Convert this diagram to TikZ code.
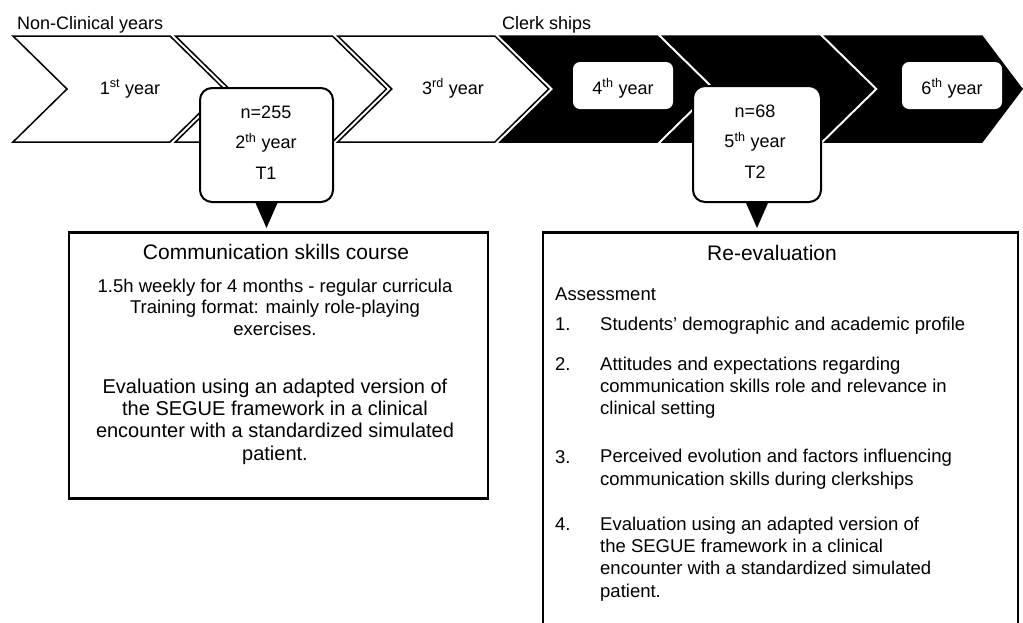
\documentclass[tikz,border=0pt]{standalone}
\usepackage{fontspec}
\setmainfont{Liberation Sans}
\usetikzlibrary{positioning}
\tikzset{
  chevWhite/.style={draw=black, fill=white, line width=1.5pt},
  chevBlack/.style={draw=black, fill=black, line width=1.5pt},
  yearBox/.style={fill=white, rounded corners=7pt, minimum width=100pt, minimum height=47pt, inner sep=0pt},
  yearTxt/.style={font=\fontsize{18}{21}\selectfont, inner sep=0pt, anchor=base},
  headTxt/.style={font=\fontsize{18}{21}\selectfont, inner sep=0pt, anchor=base west},
  calloutBox/.style={draw=black, fill=white, line width=2pt, rounded corners=12pt, inner sep=0pt},
  calloutTxt/.style={font=\fontsize{18}{30.5}\selectfont, align=center, inner sep=0pt, anchor=base},
  calloutTip/.style={fill=black},
  panelBox/.style={draw=black, line width=2.5pt, inner sep=0pt},
  titleTxt/.style={font=\fontsize{21}{24}\selectfont, inner sep=0pt, anchor=base},
  itemTxt/.style={font=\fontsize{18.5}{22.3}\selectfont, align=left, inner sep=0pt, anchor=base west}
}
\begin{document}
\begin{tikzpicture}[x=1pt, y=-1pt]
  \useasboundingbox (0,0) rectangle (1023,622);
  \clip (0,0) rectangle (1023,622);
  % year chevrons
  \foreach \i/\sty in {0/chevWhite,1/chevWhite,2/chevWhite,3/chevBlack,4/chevBlack} {
    \pgfmathsetmacro\L{13+162.4*\i}
    \draw[\sty] (\L,36) -- ++(157,0) -- ++(54,53) -- ++(-54,53) -- ++(-157,0) -- ++(54,-53) -- cycle;
  }
  \draw[chevBlack] (825,36) -- ++(157,0) -- (1022,89) -- (982,142) -- ++(-157,0) -- ++(54,-53) -- cycle;
  \node[headTxt] (nonclin) at (17,29) {Non-Clinical years};
  \node[headTxt] (clerk) at (502,29) {Clerk ships};
  \node[yearTxt] (y1) at (130,94) {1\textsuperscript{st} year};
  \node[yearTxt] (y3) at (453,94) {3\textsuperscript{rd} year};
  \node[yearBox] (y4box) at (623,85.5) {};
  \node[yearTxt] (y4) at (623,94) {4\textsuperscript{th} year};
  \node[yearBox] (y6box) at (952,85.5) {};
  \node[yearTxt] (y6) at (952,94) {6\textsuperscript{th} year};
  % panels
  \node[panelBox, minimum width=419pt, minimum height=266pt, anchor=north] (pnl1) at (278.5,231) {};
  \node[panelBox, minimum width=475pt, minimum height=420pt, anchor=north] (pnl2) at (780.5,231) {};
  % time points (multi-line texts sit on their last baseline)
  \node[calloutBox, minimum width=133pt, minimum height=114pt] (t1) at (266.5,145) {};
  \node[calloutTxt] (t1txt) at (266,179) {n=255\\2\textsuperscript{th} year\\T1};
  \fill[calloutTip] ([xshift=-11pt]t1.south) -- ([xshift=11pt]t1.south) -- ([yshift=-25pt]t1.south) -- cycle;
  \node[calloutBox, minimum width=128pt, minimum height=116pt] (t2) at (757,144) {};
  \node[calloutTxt] (t2txt) at (755,178) {n=68\\5\textsuperscript{th} year\\T2};
  \fill[calloutTip] ([xshift=-11pt]t2.south) -- ([xshift=11pt]t2.south) -- ([yshift=-25pt]t2.south) -- cycle;
  % course panel
  \node[titleTxt] (c1title) at (276,259) {Communication skills course};
  \node[calloutTxt, font=\fontsize{18.5}{21.5}\selectfont] (c1info) at (275,335) {1.5h weekly for 4 months - regular curricula\\Training format: mainly role-playing\\exercises.};
  \node[calloutTxt, font=\fontsize{20}{22.3}\selectfont] (c1eval) at (275,460) {Evaluation using an adapted version of\\the SEGUE framework in a clinical\\encounter with a standardized simulated\\patient.};
  % re-evaluation panel
  \node[titleTxt] (c2title) at (772,260) {Re-evaluation};
  \node[itemTxt] (assess) at (555,300) {Assessment};
  \node[itemTxt] (n1) at (555,330) {1.};
  \node[itemTxt] (i1) at (600,330) {Students’ demographic and academic profile};
  \node[itemTxt] (n2) at (555,370) {2.};
  \node[itemTxt, font=\fontsize{18.5}{22}\selectfont] (i2) at (600,414) {Attitudes and expectations regarding\\communication skills role and relevance in\\clinical setting};
  \node[itemTxt] (n3) at (555,463) {3.};
  \node[itemTxt] (i3) at (600,485) {Perceived evolution and factors influencing\\communication skills during clerkships};
  \node[itemTxt] (n4) at (555,530) {4.};
  \node[itemTxt] (i4) at (600,597) {Evaluation using an adapted version of\\the SEGUE framework in a clinical\\encounter with a standardized simulated\\patient.};
\end{tikzpicture}
\end{document}
